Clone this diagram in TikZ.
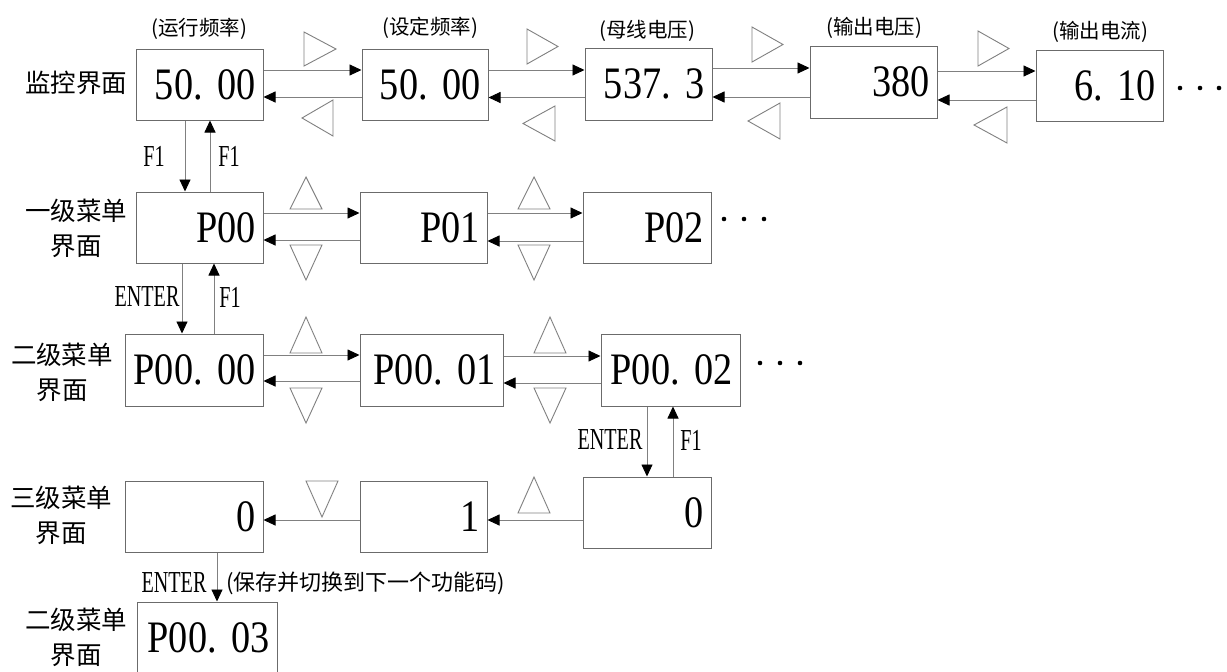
\documentclass[tikz,border=0pt]{standalone}
\usepackage{fontspec}
\usetikzlibrary{arrows.meta,calc}
\newfontfamily\cjk{Noto Sans CJK SC}
\newfontfamily\numf[FakeStretch=0.85]{Liberation Serif}
\newfontfamily\smallf[FakeStretch=0.66]{Liberation Serif}
\definecolor{boxc}{gray}{0.42}
\definecolor{linec}{gray}{0.5}
\newcommand\bx[6]{%
 \pgfmathsetmacro\myW{#4-#2}\pgfmathsetmacro\myH{#5-#3}\pgfmathsetmacro\myT{#4-#2-14}%
 \node[box, minimum width=\myW pt, minimum height=\myH pt, text width=\myT pt] (#1) at ({(#2+#4)/2},{(#3+#5)/2}) {\mbox{#6}};}
\begin{document}
\frenchspacing
\begin{tikzpicture}[x=1pt,y=-1pt,
  box/.style={draw=boxc, line width=1pt, inner xsep=6pt, inner ysep=0pt, align=right, font=\numf\fontsize{45}{45}\selectfont\frenchspacing},
  arr/.style={draw=linec, line width=0.9pt, -{Triangle[length=12pt,width=11pt,color=black]}},
  tri/.style={draw=linec, line width=0.9pt, line join=miter},
  rowlab/.style={align=center, font=\cjk\fontsize{25.5}{35}\selectfont, inner sep=0pt},
  toplab/.style={font=\cjk\fontsize{20.5}{22}\selectfont, inner sep=0pt},
  notelab/.style={font=\cjk\fontsize{22}{22}\selectfont, inner sep=0pt},
  keylab/.style={font=\smallf\fontsize{30.5}{30.5}\selectfont, inner sep=0pt}]
\useasboundingbox (0,0) rectangle (1227,672);
\fill[white] (0,0) rectangle (1227,672);
% boxes
\bx{b11}{136}{49}{263}{120}{50. 00}
\bx{b12}{362}{49}{488}{120}{50. 00}
\bx{b13}{585}{48}{712}{120}{537. 3}
\bx{b14}{810}{46}{937}{118}{380}
\bx{b15}{1036}{50}{1163}{121}{6. 10}
\bx{b21}{136}{192}{263}{263}{P00}
\bx{b22}{360}{192}{487}{263}{P01}
\bx{b23}{583}{192}{711}{263}{P02}
\bx{b31}{125}{334}{263}{406}{P00. 00}
\bx{b32}{360}{334}{503}{406}{P00. 01}
\bx{b33}{601}{334}{740}{406}{P00. 02}
\bx{b41}{125}{481}{263}{552}{0}
\bx{b42}{360}{481}{487}{552}{1}
\bx{b43}{583}{477}{711}{548}{0}
\bx{b51}{137}{602}{277}{674}{P00. 03}
% row labels
\node[rowlab] (l1) at (76,83) {监控界面};
\node[rowlab] (l2) at (76,228) {一级菜单\\界面};
\node[rowlab] (l3) at (62,372) {二级菜单\\界面};
\node[rowlab] (l4) at (61,515) {三级菜单\\界面};
\node[rowlab] (l5) at (76,637) {二级菜单\\界面};
% top labels
\node[toplab] (t1) at (199,29) {(运行频率)};
\node[toplab] (t2) at (430,28) {(设定频率)};
\node[toplab] (t3) at (647,31) {(母线电压)};
\node[toplab] (t4) at (874,28) {(输出电压)};
\node[toplab] (t5) at (1100,32) {(输出电流)};
% row 1 arrows
\draw[arr] ([yshift=14.5pt]b11.east) -- ([yshift=14.5pt]b11.east -| b12.west);
\draw[arr] ([yshift=-12.5pt]b11.east -| b12.west) -- ([yshift=-12.5pt]b11.east);
\draw[arr] ([yshift=14.5pt]b12.east) -- ([yshift=14.5pt]b12.east -| b13.west);
\draw[arr] ([yshift=-13pt]b12.east -| b13.west) -- ([yshift=-13pt]b12.east);
\draw[arr] ([yshift=16pt]b13.east) -- ([yshift=16pt]b13.east -| b14.west);
\draw[arr] ([yshift=-13pt]b13.east -| b14.west) -- ([yshift=-13pt]b13.east);
\draw[arr] ([yshift=11pt]b14.east) -- ([yshift=11pt]b14.east -| b15.west);
\draw[arr] ([yshift=-18pt]b14.east -| b15.west) -- ([yshift=-18pt]b14.east);
% row 2 arrows
\draw[arr] ([yshift=14.5pt]b21.east) -- ([yshift=14.5pt]b21.east -| b22.west);
\draw[arr] ([yshift=-12.5pt]b21.east -| b22.west) -- ([yshift=-12.5pt]b21.east);
\draw[arr] ([yshift=14.5pt]b22.east) -- ([yshift=14.5pt]b22.east -| b23.west);
\draw[arr] ([yshift=-13.5pt]b22.east -| b23.west) -- ([yshift=-13.5pt]b22.east);
% row 3 arrows
\draw[arr] ([yshift=15pt]b31.east) -- ([yshift=15pt]b31.east -| b32.west);
\draw[arr] ([yshift=-11pt]b31.east -| b32.west) -- ([yshift=-11pt]b31.east);
\draw[arr] ([yshift=14pt]b32.east) -- ([yshift=14pt]b32.east -| b33.west);
\draw[arr] ([yshift=-13pt]b32.east -| b33.west) -- ([yshift=-13pt]b32.east);
% row 4 arrows
\draw[arr] ([yshift=-7.5pt]b43.west) -- ([yshift=-7.5pt]b43.west -| b42.east);
\draw[arr] ([yshift=-3.5pt]b42.west) -- ([yshift=-3.5pt]b42.west -| b41.east);
% vertical arrows
\draw[arr] ([xshift=-14.5pt]b11.south) -- ([xshift=-14.5pt]b11.south |- b21.north);
\draw[arr] ([xshift=10.5pt]b11.south |- b21.north) -- ([xshift=10.5pt]b11.south);
\draw[arr] ([xshift=-17.5pt]b21.south) -- ([xshift=-17.5pt]b21.south |- b31.north);
\draw[arr] ([xshift=14.5pt]b21.south |- b31.north) -- ([xshift=14.5pt]b21.south);
\draw[arr] ([xshift=-23.5pt]b33.south) -- ([xshift=-23.5pt]b33.south |- b43.north);
\draw[arr] ([xshift=2.5pt]b33.south |- b43.north) -- ([xshift=2.5pt]b33.south);
\draw[arr] ([xshift=23pt]b41.south) -- ([xshift=23pt]b41.south |- b51.north);
% key labels
\node[keylab] (k1) at (154,156) {F1};
\node[keylab] (k2) at (229,156) {F1};
\node[keylab] (k3) at (147,297) {ENTER};
\node[keylab] (k4) at (230,297) {F1};
\node[keylab] (k5) at (610,440) {ENTER};
\node[keylab] (k6) at (691,440) {F1};
\node[keylab] (k7) at (174,583) {ENTER};
\node[notelab, anchor=west] (note) at (226,583) {(保存并切换到下一个功能码)};
% hollow triangles row 1
\draw[tri] (304,32) -- (304,66) -- (336,49) -- cycle;
\draw[tri] (333,100) -- (333,136) -- (302,118) -- cycle;
\draw[tri] (527,29) -- (527,64) -- (558,46.5) -- cycle;
\draw[tri] (555,106) -- (555,141) -- (523,123.5) -- cycle;
\draw[tri] (752,27) -- (752,62) -- (783,44.5) -- cycle;
\draw[tri] (780,103) -- (780,139) -- (748,121) -- cycle;
\draw[tri] (978,31) -- (978,66) -- (1009,48.5) -- cycle;
\draw[tri] (1007,107) -- (1007,143) -- (974,125) -- cycle;
% row 2
\draw[tri] (290,209) -- (322,209) -- (306,177) -- cycle;
\draw[tri] (290,245) -- (322,245) -- (306,280) -- cycle;
\draw[tri] (518,209) -- (550,209) -- (534,177) -- cycle;
\draw[tri] (518,245) -- (550,245) -- (534,280) -- cycle;
% row 3
\draw[tri] (290,353) -- (322,353) -- (306,317) -- cycle;
\draw[tri] (290,388) -- (322,388) -- (306,423) -- cycle;
\draw[tri] (534,353) -- (566,353) -- (550,317) -- cycle;
\draw[tri] (534,388) -- (566,388) -- (550,423) -- cycle;
% row 4
\draw[tri] (306,481) -- (338,481) -- (322,517) -- cycle;
\draw[tri] (518,513) -- (550,513) -- (534,477) -- cycle;
% continuation dots
\foreach \dx in {1180,1200,1219} \fill (\dx,88) circle (2.3pt);
\foreach \dx in {724,744,764} \fill (\dx,219) circle (2.3pt);
\foreach \dx in {760,780,800} \fill (\dx,363) circle (2.3pt);
\end{tikzpicture}
\end{document}
